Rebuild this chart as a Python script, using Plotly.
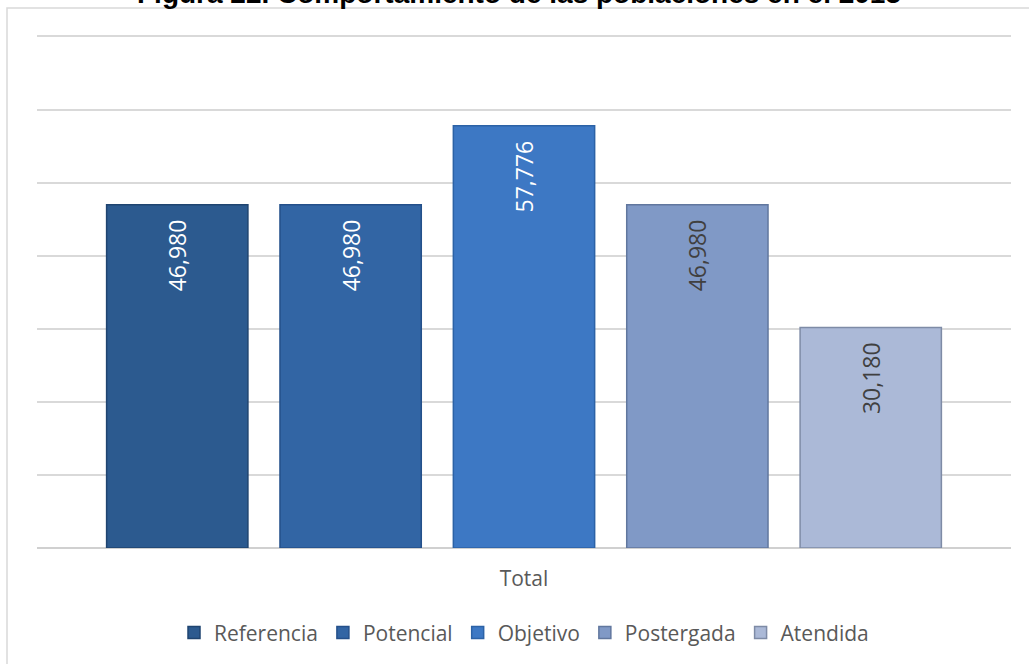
import plotly.graph_objects as go

categories = ["Total"]
series_names = ["Referencia", "Potencial", "Objetivo", "Postergada", "Atendida"]
series_values = [46980, 46980, 57776, 46980, 30180]
bar_colors = ["#2C5A8F", "#3265A4", "#3D78C4", "#8099C6", "#ABB9D7"]
line_colors = ["#1F4470", "#24508A", "#2C62A6", "#61779E", "#7E8BA6"]
label_colors = ["#FFFFFF", "#FFFFFF", "#FFFFFF", "#404040", "#404040"]
title_text = "Figura 22. Comportamiento de las poblaciones en el 2015"

W, H = 1029, 664
ml, mr, mt, mb = 37, 18, 35, 115
pw, ph = W - ml - mr, H - mt - mb
y_top = 70200  # keeps the 70,000 gridline visible just inside the plot

fig = go.Figure()
for name, val, col, lc, tc in zip(series_names, series_values, bar_colors, line_colors, label_colors):
    fig.add_trace(go.Bar(
        name=name, x=categories, y=[val],
        marker=dict(color=col, line=dict(color=lc, width=1.5)),
        text=[f"{val:,}\u00a0\u00a0"], textposition="inside", insidetextanchor="end",
        textangle=-90, textfont=dict(family="Open Sans", size=23, color=tc),
        cliponaxis=False,
    ))

fig.update_layout(
    width=W, height=H,
    margin=dict(l=ml, r=mr, t=mt, b=mb),
    paper_bgcolor="white", plot_bgcolor="white",
    barmode="group", bargap=0.11, bargroupgap=0.185,
    showlegend=True,
    legend=dict(orientation="h", x=0.5, xanchor="center", y=-0.163, yanchor="middle",
                font=dict(family="Open Sans", size=21, color="#595959"),
                traceorder="normal"),
    font=dict(family="Open Sans", color="#595959"),
)
fig.update_yaxes(range=[0, y_top], dtick=10000, showticklabels=False,
                 showgrid=True, gridcolor="#D9D9D9", gridwidth=1.5,
                 zeroline=True, zerolinecolor="#D0D0D0", zerolinewidth=2,
                 showline=False, fixedrange=True)
fig.update_xaxes(showgrid=False, showline=False, ticks="",
                 tickfont=dict(family="Open Sans", size=21, color="#595959"),
                 ticklabelstandoff=16)

# outer chart border (extends beyond right/bottom edge)
fig.add_shape(type="rect", xref="paper", yref="paper",
              x0=(7 - ml) / pw, x1=1.2, y0=-0.4, y1=1 + (mt - 8) / ph,
              line=dict(color="#D9D9D9", width=1.5), fillcolor="rgba(0,0,0,0)", layer="below")

# title, clipped at the top edge like the reference
fig.add_annotation(text=f"<b>{title_text}</b>", xref="paper", yref="paper",
                   x=(519 - ml) / pw, y=1 + (mt + 7) / ph, xanchor="center", yanchor="middle",
                   showarrow=False, font=dict(family="Liberation Sans", size=28, color="#000000"))

fig.write_html("out.html", config={"displayModeBar": False}, post_script=(
    "document.body.style.margin='0';"
    "document.body.style.overflow='hidden';"
    "document.documentElement.style.overflow='hidden';"
))
